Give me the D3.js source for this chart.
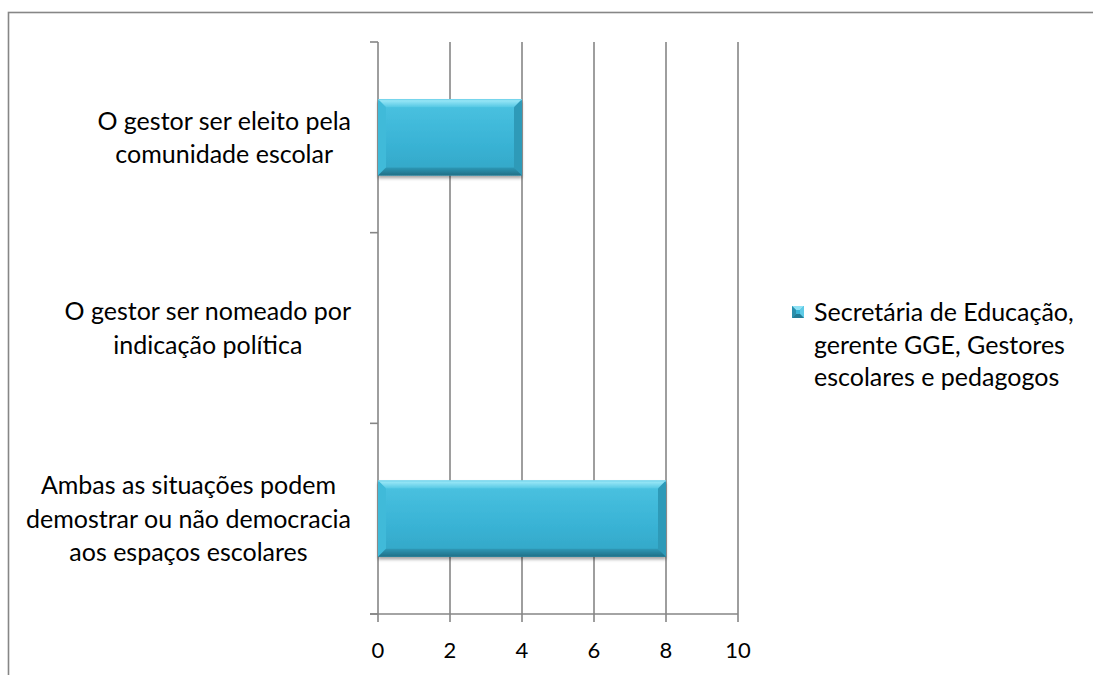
<!DOCTYPE html>
<html>
<head>
<meta charset="utf-8">
<script src="https://cdn.jsdelivr.net/npm/d3@7"></script>
<style>
  html, body { margin: 0; padding: 0; background: #fff; }
  svg { display: block; }
  text { font-family: Lato, "Open Sans", sans-serif; fill: #000; }
</style>
</head>
<body>
<svg id="chart" width="1093" height="675"></svg>
<script>
// Categories, top to bottom as drawn
const categories = [
  "O gestor ser eleito pela|comunidade escolar",
  "O gestor ser nomeado por|indicação política",
  "Ambas as situações podem|demostrar ou não democracia|aos espaços escolares"
];
const seriesName = "Secretária de Educação,|gerente GGE, Gestores|escolares e pedagogos";
const seriesValues = [4, 0, 8];
const xTicks = [0, 2, 4, 6, 8, 10];

const svg = d3.select("#chart");
const W = 1093, H = 675;
const gridColor = "#868686";
const labelSize = 25;
const tickSize = 22;

const defs = svg.append("defs");
const face = defs.append("linearGradient").attr("id", "barFace")
  .attr("x1", 0).attr("y1", 0).attr("x2", 0).attr("y2", 1);
face.append("stop").attr("offset", "0%").attr("stop-color", "#4cc3e1");
face.append("stop").attr("offset", "55%").attr("stop-color", "#3ab4d6");
face.append("stop").attr("offset", "100%").attr("stop-color", "#33a6c6");
const topG = defs.append("linearGradient").attr("id", "barTop")
  .attr("x1", 0).attr("y1", 0).attr("x2", 0).attr("y2", 1);
topG.append("stop").attr("offset", "0%").attr("stop-color", "#a4ecfa");
topG.append("stop").attr("offset", "100%").attr("stop-color", "#55c8e4");
const botG = defs.append("linearGradient").attr("id", "barBottom")
  .attr("x1", 0).attr("y1", 0).attr("x2", 0).attr("y2", 1);
botG.append("stop").attr("offset", "0%").attr("stop-color", "#2e98b6");
botG.append("stop").attr("offset", "100%").attr("stop-color", "#1f6f86");
const shadow = defs.append("filter").attr("id", "shadow")
  .attr("x", "-5%").attr("y", "-5%").attr("width", "110%").attr("height", "130%");
shadow.append("feDropShadow").attr("dx", 0).attr("dy", 2.5)
  .attr("stdDeviation", 1.6).attr("flood-color", "#000").attr("flood-opacity", 0.35);

// Chart area border
svg.append("rect")
  .attr("x", 8.5).attr("y", 12.5).attr("width", W + 20).attr("height", H + 20)
  .attr("fill", "none").attr("stroke", gridColor).attr("stroke-width", 1.6);

// Scales
const x = d3.scaleLinear().domain([0, 10]).range([378, 738]);
const y = d3.scaleBand().domain(categories).range([42, 614])
  .paddingInner(0.6).paddingOuter(0.3);
const step = y.step();

// Vertical gridlines
svg.append("g").selectAll("line").data(xTicks.filter(d => d !== 0)).join("line")
  .attr("x1", d => x(d)).attr("x2", d => x(d))
  .attr("y1", y.range()[0]).attr("y2", y.range()[1] + 8)
  .attr("stroke", gridColor).attr("stroke-width", 1.6);

// Y axis line and category boundary ticks
const yTicks = [y.range()[0]].concat(categories.map(c => y(c) + y.bandwidth() + step * y.paddingInner() / 2));
svg.append("line")
  .attr("x1", x(0)).attr("x2", x(0))
  .attr("y1", y.range()[0]).attr("y2", y.range()[1] + 8)
  .attr("stroke", gridColor).attr("stroke-width", 1.6);
svg.append("g").selectAll("line").data(yTicks).join("line")
  .attr("x1", x(0) - 8).attr("x2", x(0))
  .attr("y1", d => d).attr("y2", d => d)
  .attr("stroke", gridColor).attr("stroke-width", 1.6);

// X axis line and tick labels
svg.append("line")
  .attr("x1", x(0) - 8).attr("x2", x(10))
  .attr("y1", y.range()[1]).attr("y2", y.range()[1])
  .attr("stroke", gridColor).attr("stroke-width", 1.6);
svg.append("g").selectAll("text").data(xTicks).join("text")
  .attr("x", d => x(d)).attr("y", 658)
  .attr("text-anchor", "middle").attr("font-size", tickSize)
  .text(d => d);

// Bevelled bars
function bevelBar(g, x0, y0, x1, y1, b) {
  g.attr("filter", "url(#shadow)");
  g.append("rect").attr("x", x0).attr("y", y0).attr("width", x1 - x0).attr("height", y1 - y0)
    .attr("fill", "url(#barFace)");
  g.append("polygon").attr("points", [[x0, y0], [x1, y0], [x1 - b, y0 + b], [x0 + b, y0 + b]].join(" "))
    .attr("fill", "url(#barTop)");
  g.append("polygon").attr("points", [[x0, y0], [x0 + b, y0 + b], [x0 + b, y1 - b], [x0, y1]].join(" "))
    .attr("fill", "#41bad9");
  g.append("polygon").attr("points", [[x1, y0], [x1, y1], [x1 - b, y1 - b], [x1 - b, y0 + b]].join(" "))
    .attr("fill", "#2f9ab8");
  g.append("polygon").attr("points", [[x0, y1], [x1, y1], [x1 - b, y1 - b], [x0 + b, y1 - b]].join(" "))
    .attr("fill", "url(#barBottom)");
  g.append("line").attr("x1", x0).attr("x2", x1).attr("y1", y0 + 0.5).attr("y2", y0 + 0.5)
    .attr("stroke", "#6fd2ea").attr("stroke-width", 1);
}
categories.forEach((c, i) => {
  const v = seriesValues[i];
  if (v <= 0) return;
  const x0 = x(0), x1 = x(v);
  const y0 = y(c), y1 = y(c) + y.bandwidth();
  bevelBar(svg.append("g"), x0, y0, x1, y1, 8);
});

// Category labels: each block right-aligned, lines centred within it
const lineH = 33.5;
const labelRight = 351;
categories.forEach(c => {
  const lines = c.split("|");
  const g = svg.append("g");
  const cy = y(c) + y.bandwidth() / 2;
  const ts = lines.map((ln, j) => g.append("text")
    .attr("font-size", labelSize)
    .attr("text-anchor", "middle")
    .attr("y", cy + (j - (lines.length - 1) / 2) * lineH + 9)
    .text(ln));
  const maxW = d3.max(ts, t => t.node().getComputedTextLength());
  ts.forEach(t => t.attr("x", labelRight - maxW / 2));
});

// Legend
const lg = svg.append("g");
const mx = 792, my = 306, ms = 12, mb = 4;
lg.append("rect").attr("x", mx).attr("y", my).attr("width", ms).attr("height", ms).attr("fill", "#3ab4d6");
lg.append("polygon").attr("points", [[mx, my], [mx + ms, my], [mx + ms - mb, my + mb], [mx + mb, my + mb]].join(" ")).attr("fill", "#8fe2f5");
lg.append("polygon").attr("points", [[mx, my], [mx + mb, my + mb], [mx + mb, my + ms - mb], [mx, my + ms]].join(" ")).attr("fill", "#2b8fac");
lg.append("polygon").attr("points", [[mx + ms, my], [mx + ms, my + ms], [mx + ms - mb, my + ms - mb], [mx + ms - mb, my + mb]].join(" ")).attr("fill", "#5fcbe6");
lg.append("polygon").attr("points", [[mx, my + ms], [mx + ms, my + ms], [mx + ms - mb, my + ms - mb], [mx + mb, my + ms - mb]].join(" ")).attr("fill", "#237c96");
seriesName.split("|").forEach((ln, j) => {
  lg.append("text").attr("x", 814).attr("y", my + 15 + j * 32.5)
    .attr("font-size", labelSize).text(ln);
});
</script>
</body>
</html>
